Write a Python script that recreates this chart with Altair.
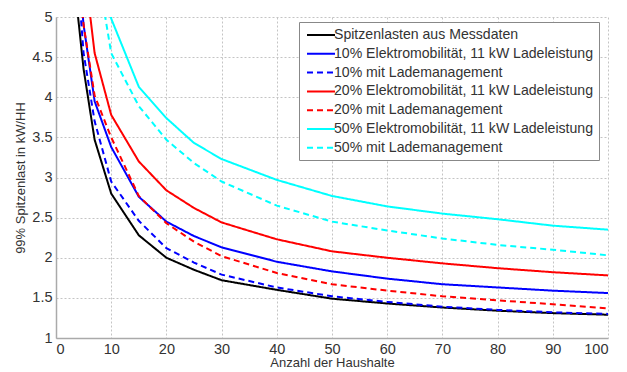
import altair as alt
import pandas as pd

x_vals = [3, 4, 5, 7, 10, 15, 20, 25, 30, 40, 50, 60, 70, 80, 90, 100]

series_names = [
    "Spitzenlasten aus Messdaten",
    "10% Elektromobilität, 11 kW Ladeleistung",
    "10% mit Lademanagement",
    "20% Elektromobilität, 11 kW Ladeleistung",
    "20% mit Lademanagement",
    "50% Elektromobilität, 11 kW Ladeleistung",
    "50% mit Lademanagement",
]

messdaten   = [6.0, 5.0, 4.35, 3.47, 2.80, 2.28, 2.00, 1.85, 1.72, 1.60, 1.49, 1.43, 1.38, 1.34, 1.31, 1.29]
emob10      = [6.3, 5.6, 4.90, 3.95, 3.38, 2.76, 2.45, 2.27, 2.13, 1.95, 1.83, 1.74, 1.67, 1.63, 1.59, 1.56]
emob10_lm   = [6.2, 5.45, 4.55, 3.70, 2.95, 2.46, 2.12, 1.94, 1.79, 1.63, 1.52, 1.45, 1.39, 1.35, 1.32, 1.30]
emob20      = [7.0, 6.4, 5.70, 4.55, 3.78, 3.20, 2.84, 2.62, 2.44, 2.23, 2.08, 2.00, 1.93, 1.87, 1.82, 1.78]
emob20_lm   = [6.3, 5.6, 4.90, 4.02, 3.50, 2.77, 2.43, 2.20, 2.02, 1.81, 1.67, 1.59, 1.52, 1.47, 1.42, 1.37]
emob50      = [9.0, 8.0, 7.30, 6.30, 4.98, 4.13, 3.74, 3.43, 3.23, 2.97, 2.77, 2.64, 2.55, 2.48, 2.40, 2.35]
emob50_lm   = [8.0, 7.2, 6.60, 5.80, 4.55, 3.89, 3.47, 3.18, 2.95, 2.65, 2.45, 2.34, 2.24, 2.16, 2.10, 2.03]

series_values = [messdaten, emob10, emob10_lm, emob20, emob20_lm, emob50, emob50_lm]
series_colors = ["#000000", "#0000ff", "#0000ff", "#ff0000", "#ff0000", "#00ffff", "#00ffff"]
series_dashes = [[1, 0], [1, 0], [6, 4], [1, 0], [6, 4], [1, 0], [6, 4]]

y_ticks = [1, 1.5, 2, 2.5, 3, 3.5, 4, 4.5, 5]
x_ticks = [0, 10, 20, 30, 40, 50, 60, 70, 80, 90, 100]

rows = []
for name, vals in zip(series_names, series_values):
    for xv, yv in zip(x_vals, vals):
        rows.append({"x": xv, "y": yv, "serie": name})
df = pd.DataFrame(rows)

FONT = "Liberation Sans"

legend_opts = dict(title=None, orient="none", legendX=243, legendY=5,
                   symbolType="M-1,0H3", symbolSize=196, symbolStrokeWidth=2,
                   symbolFillColor="transparent", symbolOffset=2,
                   labelFontSize=14.1, labelFont=FONT, labelColor="#333333",
                   labelLimit=400, fillColor="white", strokeColor="#888888",
                   padding=5, rowPadding=2.8, labelOffset=12)

chart = alt.Chart(df).mark_line(clip=True, strokeWidth=2).encode(
    x=alt.X("x:Q",
            scale=alt.Scale(domain=[0, 100], nice=False),
            axis=alt.Axis(values=x_ticks, title="Anzahl der Haushalte", format="d")),
    y=alt.Y("y:Q",
            scale=alt.Scale(domain=[1, 5], nice=False, zero=False),
            axis=alt.Axis(values=y_ticks, title="99% Spitzenlast in kW/HH", format="~g")),
    color=alt.Color("serie:N",
                    scale=alt.Scale(domain=series_names, range=series_colors),
                    sort=series_names,
                    legend=alt.Legend(**legend_opts)),
    strokeDash=alt.StrokeDash("serie:N",
                              scale=alt.Scale(domain=series_names, range=series_dashes),
                              sort=series_names,
                              legend=alt.Legend(**legend_opts)),
    order=alt.Order("x:Q"),
).properties(
    width=552,
    height=321,
    autosize=alt.AutoSizeParams(type="none"),
    padding={"left": 56, "top": 17, "right": 19, "bottom": 34},
).configure_view(
    stroke=None
).configure_axis(
    labelFont=FONT, titleFont=FONT, labelFontSize=14.5, titleFontSize=13,
    labelColor="#333333", titleColor="#333333", titleFontWeight="normal",
    domainColor="#aaaaaa", domainWidth=1.5, ticks=False,
    grid=True, gridColor="#c4c4c4", gridDash=[2, 2], gridWidth=1,
    labelPadding=4,
).configure_axisY(
    titlePadding=4
).configure_axisX(
    titlePadding=1
)

chart.save("out.html", embed_options={"renderer": "svg", "actions": False})
